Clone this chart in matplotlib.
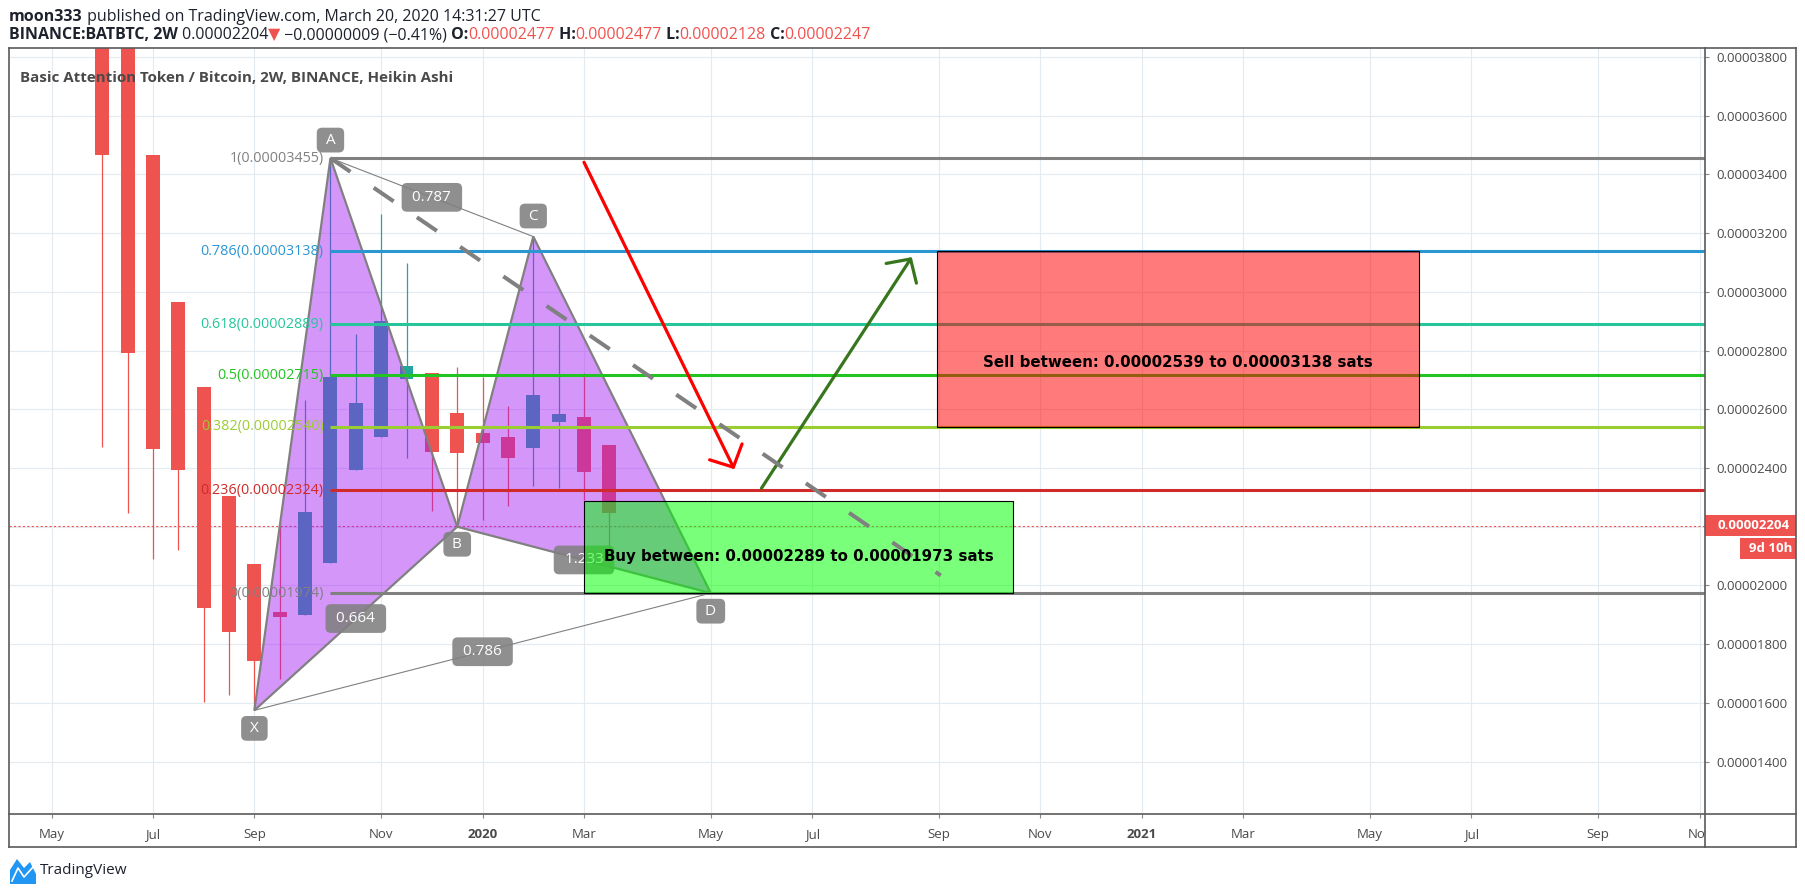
import numpy as np
import matplotlib
matplotlib.use("Agg")
import matplotlib.pyplot as plt
import matplotlib.dates as mdates
from matplotlib.patches import Rectangle, Polygon
from matplotlib.lines import Line2D
from matplotlib.ticker import FuncFormatter

W, H = 1805, 894
SAT = 1e-8

plt.rcParams['font.family'] = ['Open Sans', 'DejaVu Sans']

# ---- data (prices in satoshi, 1e-8 BTC) ----
bar_dates = ['2019-06-10', '2019-06-24', '2019-07-08', '2019-07-22', '2019-08-05',
             '2019-08-19', '2019-09-02', '2019-09-16', '2019-09-30', '2019-10-14',
             '2019-10-28', '2019-11-11', '2019-11-25', '2019-12-09', '2019-12-23',
             '2020-01-06', '2020-01-20', '2020-02-03', '2020-02-17', '2020-03-02',
             '2020-03-16']
ha_open = [4812, 4139, 3465, 2966, 2677, 2303, 2073, 1911, 1900, 2076, 2394,
           2507, 2704, 2725, 2587, 2520, 2504, 2467, 2558, 2572, 2477]
ha_close = [3466, 2791, 2466, 2393, 1924, 1843, 1744, 1892, 2251, 2710, 2622,
            2899, 2747, 2453, 2450, 2484, 2433, 2649, 2584, 2388, 2247]
ha_high = [5050, 4250, 3465, 2966, 2677, 2303, 2073, 2212, 2633, 3455, 2857,
           3266, 3097, 2725, 2743, 2709, 2611, 3188, 2891, 2723, 2477]
ha_low = [2473, 2246, 2089, 2120, 1603, 1627, 1575, 1682, 1900, 2076, 2394,
          2507, 2435, 2252, 2200, 2223, 2272, 2340, 2331, 2290, 2128]

last_price = 2204
time_left = '9d 10h'

fib_ratios = ['1', '0.786', '0.618', '0.5', '0.382', '0.236', '0']
fib_prices = [3455, 3138, 2889, 2715, 2540, 2324, 1974]
fib_colors = ['#808080', '#2a96d2', '#26c69a', '#21c421', '#9acd32', '#d02a2a', '#808080']

point_names = ['X', 'A', 'B', 'C', 'D']
point_dates = ['2019-09-02', '2019-10-14', '2019-12-23', '2020-02-03', '2020-05-11']
point_prices = [1575, 3455, 2200, 3188, 1974]

ratio_pairs = [('X', 'B'), ('A', 'C'), ('B', 'D'), ('X', 'D')]
ratio_texts = ['0.664', '0.787', '1.233', '0.786']

dash_end = ('2020-09-15', 2034)
red_arrow = [('2020-03-02', 3441), ('2020-05-24', 2396)]
green_arrow = [('2020-06-08', 2331), ('2020-08-30', 3118)]

sell_dates = ['2020-09-13', '2021-06-06']
sell_range = [2539, 3138]
buy_dates = ['2020-03-02', '2020-10-25']
buy_range = [1973, 2289]

price_ticks = [1400, 1600, 1800, 2000, 2200, 2400, 2600, 2800, 3000, 3200, 3400, 3600, 3800]
month_ticks = ['2019-05-13', '2019-07-08', '2019-09-02', '2019-11-11', '2020-01-06',
               '2020-03-02', '2020-05-11', '2020-07-06', '2020-09-14', '2020-11-09',
               '2021-01-04', '2021-03-01', '2021-05-10', '2021-07-05', '2021-09-13',
               '2021-11-08']
month_labels = ['May', 'Jul', 'Sep', 'Nov', '2020', 'Mar', 'May', 'Jul', 'Sep', 'Nov',
                '2021', 'Mar', 'May', 'Jul', 'Sep', 'Nov']


def dn(s):
    return mdates.date2num(np.datetime64(s))


# ---- figure / panes (pixel geometry) ----
PL, PR, PT, PB = 9, 1705, 48, 814
RR, BB = 1796, 847


def fx(px):
    return px / W


def fy(py):
    return 1 - py / H


fig = plt.figure(figsize=(W / 100, H / 100), dpi=100)
ax = fig.add_axes([fx(PL), fy(PB), fx(PR) - fx(PL), fy(PT) - fy(PB)])
ax.set_xlim(dn('2019-04-19T12'), dn('2021-11-11'))
ax.set_ylim(1222 * SAT, 3830 * SAT)
for s in ax.spines.values():
    s.set_visible(False)

ax.set_axisbelow(True)
ax.grid(True, color='#e3ebf1', lw=0.8)

# price line
ax.axhline(last_price * SAT, color='#ef5350', lw=0.8, ls=(0, (2, 2)), zorder=1.5)

# heikin ashi candles
x = mdates.date2num(np.array(bar_dates, dtype='datetime64[D]'))
o = np.array(ha_open) * SAT
c = np.array(ha_close) * SAT
hi = np.array(ha_high) * SAT
lo = np.array(ha_low) * SAT
cols = np.where(c >= o, '#26a69a', '#ef5350')
ax.vlines(x, lo, hi, colors=cols, lw=0.9, zorder=2)
ax.bar(x, np.abs(c - o), bottom=np.minimum(o, c), width=7.7, color=cols, zorder=2.1)

# XABCD pattern
pts = {n: (dn(d), p * SAT) for n, d, p in zip(point_names, point_dates, point_prices)}
for tri in (['X', 'A', 'B'], ['B', 'C', 'D']):
    xy = [pts[n] for n in tri]
    ax.add_patch(Polygon(xy, closed=True, fc='#a216f6', alpha=0.45, ec='none', zorder=3))
    ax.add_patch(Polygon(xy, closed=True, fill=False, ec='#808080', lw=1.6, zorder=3.2))
for a, b in [('A', 'C'), ('X', 'D')]:
    ax.plot([pts[a][0], pts[b][0]], [pts[a][1], pts[b][1]], color='#808080', lw=0.8, zorder=3.2)

# fib retracement
xa = pts['A'][0]
ax.hlines(np.array(fib_prices) * SAT, xa, ax.get_xlim()[1], colors=fib_colors, lw=2.2, zorder=4)
for r, p, col in zip(fib_ratios, fib_prices, fib_colors):
    ax.annotate(f'{r}({p * SAT:.8f})', xy=(xa, p * SAT), xytext=(-5, 0),
                textcoords='offset points', ha='right', va='center', color=col,
                fontsize=10.4, zorder=4.5)

# ratio labels
box = dict(boxstyle='round,pad=0.45,rounding_size=0.35', fc=(0.5, 0.5, 0.5, 0.88), ec='none')
for (a, b), t in zip(ratio_pairs, ratio_texts):
    mx = (pts[a][0] + pts[b][0]) / 2
    my = (pts[a][1] + pts[b][1]) / 2
    ax.text(mx, my, ' ' + t + ' ', ha='center', va='center', color='white',
            fontsize=11, bbox=box, zorder=5)

pbox = dict(boxstyle='round,pad=0.32,rounding_size=0.35', fc=(0.5, 0.5, 0.5, 0.88), ec='none')
label_off = {'X': -13, 'A': 13, 'B': -12.6, 'C': 14.8, 'D': -13}
for n in point_names:
    ax.annotate(' ' + n + ' ', xy=pts[n], xytext=(0, label_off[n]), textcoords='offset points',
                ha='center', va='center', color='white', fontsize=11, bbox=pbox, zorder=5)

# arrows
head = '->,head_length=1.23,head_width=1.3'
for seg, col in [(red_arrow, '#ff0000'), (green_arrow, '#38761d')]:
    (d0, p0), (d1, p1) = seg
    ax.annotate('', xy=(dn(d1), p1 * SAT), xytext=(dn(d0), p0 * SAT),
                arrowprops=dict(arrowstyle=head, mutation_scale=10, color=col, lw=2.3,
                                shrinkA=0, shrinkB=0), zorder=5)

# sell / buy boxes
boxes = [(sell_dates, sell_range, (1, 0, 0, 0.52), 'Sell between', -16.5),
         (buy_dates, buy_range, (0, 1, 0, 0.52), 'Buy between', -6.5)]
for dates, rng, fc, word, dy in boxes:
    x0, x1 = dn(dates[0]), dn(dates[1])
    ax.add_patch(Rectangle((x0, rng[0] * SAT), x1 - x0, (rng[1] - rng[0]) * SAT,
                           fc=fc, ec='black', lw=0.8, zorder=6))
    lo_p, hi_p = rng if word.startswith('Sell') else rng[::-1]
    txt = f'{word}: {lo_p * SAT:.8f} to {hi_p * SAT:.8f} sats'
    ax.annotate(txt, xy=((x0 + x1) / 2, (rng[0] + rng[1]) / 2 * SAT), xytext=(0, dy),
                textcoords='offset points', ha='center', va='center', fontsize=10.8,
                fontweight='bold', color='black', family='DejaVu Sans', zorder=8)

# dashed projection
ax.plot([xa, dn(dash_end[0])], [pts['A'][1], dash_end[1] * SAT], color='#808080',
        lw=2.9, dashes=(6, 7), dash_capstyle='butt', zorder=7)

# axes ticks
ax.yaxis.tick_right()
ax.set_yticks(np.array(price_ticks) * SAT)
ax.yaxis.set_major_formatter(FuncFormatter(lambda v, pos: f'{v:.8f}'))
ax.set_xticks([dn(d) for d in month_ticks])
ax.set_xticklabels(month_labels)
for lbl in ax.get_xticklabels():
    if lbl.get_text().isdigit():
        lbl.set_fontweight('bold')
ax.tick_params(axis='y', length=3, pad=5, color='#888888', labelcolor='#4a4a4a', labelsize=9.5)
ax.tick_params(axis='x', length=3, pad=7, color='#888888', labelcolor='#4a4a4a', labelsize=9.5)

# last price tag on the price scale
ytr = ax.get_yaxis_transform()
px_w = PR - PL
hh = 10.3 / 29.36 * 1e-6
ax.add_patch(Rectangle((1.0, last_price * SAT - hh), (RR - PR) / px_w, 2 * hh, transform=ytr,
                       fc='#ef5350', ec='none', clip_on=False, zorder=10))
ax.text((1717 - PL) / px_w, last_price * SAT, f'{last_price * SAT:.8f}', transform=ytr,
        color='white', fontweight='bold', fontsize=9.5, va='center', ha='left',
        clip_on=False, zorder=11)
y2 = last_price * SAT - 23 / 29.36 * 1e-6
ax.add_patch(Rectangle(((1740 - PL) / px_w, y2 - hh), (RR - 1740) / px_w, 2 * hh, transform=ytr,
                       fc='#ef5350', ec='none', clip_on=False, zorder=10))
ax.text((RR - 4 - PL) / px_w, y2, time_left, transform=ytr, color='white', fontweight='bold',
        fontsize=9.5, va='center', ha='right', clip_on=False, zorder=11)

# covers for clipped labels + pane frame
fig.add_artist(Rectangle((fx(PR + 1), fy(PT)), fx(RR) - fx(PR + 1), 1 - fy(PT),
                         fc='white', ec='none', transform=fig.transFigure, zorder=1))
fig.add_artist(Rectangle((fx(PR + 1), fy(BB)), fx(RR) - fx(PR + 1), fy(PB) - fy(BB),
                         fc='white', ec='none', transform=fig.transFigure, zorder=1))
frame = '#5a5a5a'
for xs, ys in [([PL, RR], [PT, PT]), ([PL, RR], [BB, BB]), ([PL, PL], [PT, BB]),
               ([RR, RR], [PT, BB]), ([PR, PR], [PT, BB]), ([PL, RR], [PB, PB])]:
    fig.add_artist(Line2D([fx(v) for v in xs], [fy(v) for v in ys], color=frame, lw=1.2,
                          transform=fig.transFigure, zorder=2))

# header text
renderer = fig.canvas.get_renderer()


def text_row(x0, y0, pieces, size):
    xx = x0
    for s, col, wt in pieces:
        t = fig.text(fx(xx), fy(y0), s, fontsize=size, color=col, fontweight=wt,
                     va='baseline', ha='left', zorder=3)
        xx += t.get_window_extent(renderer).width


dark = '#1e222d'
red = '#ef5350'
text_row(9, 21, [('moon333', dark, 'bold'),
                 (' published on TradingView.com, March 20, 2020 14:31:27 UTC', dark, 'normal')], 11.5)
text_row(9, 39, [('BINANCE:BATBTC, 2W', dark, 'bold'), (' 0.00002204', dark, 'normal'),
                 ('\u25bc', red, 'normal'), (' \u22120.00000009 (\u22120.41%)', dark, 'normal'),
                 (' O:', dark, 'bold'), ('0.00002477', red, 'normal'),
                 (' H:', dark, 'bold'), ('0.00002477', red, 'normal'),
                 (' L:', dark, 'bold'), ('0.00002128', red, 'normal'),
                 (' C:', dark, 'bold'), ('0.00002247', red, 'normal')], 11.5)
fig.text(fx(20), fy(82), 'Basic Attention Token / Bitcoin, 2W, BINANCE, Heikin Ashi',
         fontsize=10.9, fontweight='bold', color='#4a4a4a', va='baseline', ha='left', zorder=3)

# TradingView logo
fig.add_artist(Polygon([(fx(10), fy(884)), (fx(10), fy(870)), (fx(17), fy(859)), (fx(24), fy(868)),
                        (fx(30), fy(862)), (fx(36), fy(874)), (fx(36), fy(884))],
                       closed=True, fc='#2196f3', ec='none', transform=fig.transFigure, zorder=2))
fig.add_artist(Line2D([fx(12), fx(18), fx(24), fx(34)], [fy(881), fy(868), fy(877), fy(866)],
                      color='white', lw=1.2, transform=fig.transFigure, zorder=3))
fig.text(fx(40), fy(871), 'TradingView', fontsize=11, color=dark, va='center', ha='left')

fig.savefig('out.png', dpi=100)
